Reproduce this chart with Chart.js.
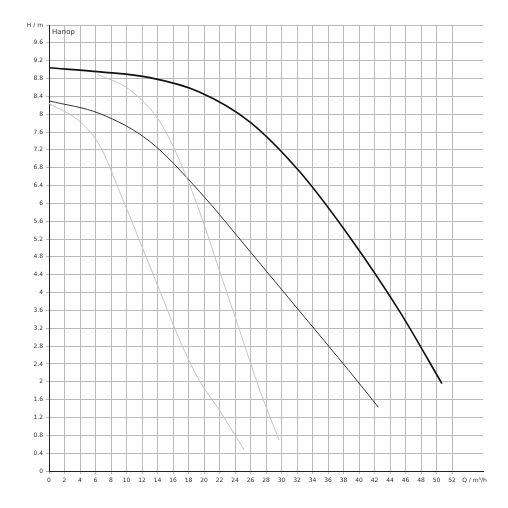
<!DOCTYPE html>
<html>
<head>
<meta charset="utf-8">
<script src="https://cdn.jsdelivr.net/npm/chart.js@4"></script>
<style>
  html, body { margin: 0; padding: 0; background: #fff; }
  #wrap { width: 508px; height: 508px; }
</style>
</head>
<body>
<div id="wrap"><canvas id="c" width="508" height="508"></canvas></div>
<script>
// -- Data --
const mainQ = [0, 6.6, 13, 19.4, 25.9, 32.3, 38.7, 45.2, 50.7];
const mainH = [9.04, 8.95, 8.82, 8.5, 7.83, 6.72, 5.27, 3.59, 1.96];

const midQ = [0, 6.6, 13, 19.4, 25.9, 32.3, 38.7, 42.5];
const midH = [8.3, 8.01, 7.39, 6.27, 4.93, 3.59, 2.25, 1.43];

const grayAQ = [6.2, 10.4, 14.3, 16.9, 19.4, 22, 24.6, 27.2, 29.7];
const grayAH = [8.9, 8.55, 7.83, 6.94, 5.83, 4.49, 3.15, 1.81, 0.69];

const grayBQ = [0, 4, 6.6, 9.1, 11.7, 14.3, 16.9, 19.4, 22, 25.2];
const grayBH = [8.24, 7.83, 7.28, 6.27, 5.16, 4.04, 2.92, 2.03, 1.36, 0.47];

const xLabelTop = 'Q / m³/h';
const yLabelTop = 'H / m';
const titleText = 'Напор';

function toPoints(qs, hs) {
    return qs.map((q, i) => ({ x: q, y: hs[i] }));
}

function makeLine(qs, hs, color, width) {
    return {
        data: toPoints(qs, hs),
        showLine: true,
        borderColor: color,
        borderWidth: width,
        pointRadius: 0,
        cubicInterpolationMode: 'monotone'
    };
}

// Draws the "Напор" caption inside the plot area
const captionPlugin = {
    id: 'caption',
    afterDraw(chart) {
        const ctx = chart.ctx;
        const area = chart.chartArea;
        ctx.save();
        ctx.font = '7px "DejaVu Sans"';
        ctx.fillStyle = '#333';
        ctx.textBaseline = 'top';
        ctx.fillText(titleText, area.left + 3, area.top + 4);
        ctx.restore();
    }
};

const tickFont = { family: 'DejaVu Sans', size: 6 };

new Chart(document.getElementById('c'), {
    type: 'scatter',
    data: {
        datasets: [
            makeLine(grayBQ, grayBH, '#c4c4c4', 1),
            makeLine(grayAQ, grayAH, '#c4c4c4', 1),
            makeLine(midQ, midH, '#333', 1),
            makeLine(mainQ, mainH, '#111', 1.6)
        ]
    },
    options: {
        responsive: false,
        animation: false,
        layout: { padding: { left: 0, top: 25, right: 25, bottom: 17 } },
        plugins: { legend: { display: false }, tooltip: { enabled: false } },
        scales: {
            x: {
                type: 'linear',
                min: 0,
                max: 56,
                afterFit: (s) => { s.height = 20; },
                border: { color: '#222', width: 1 },
                grid: {
                    color: (c) => c.tick && c.tick.value === 54.9 ? 'rgba(0,0,0,0)' : '#bbb',
                    tickLength: 3
                },
                ticks: {
                    autoSkip: false,
                    maxRotation: 0,
                    color: '#333',
                    font: tickFont,
                    callback: (v) => v === 54.9 ? xLabelTop : v
                },
                afterBuildTicks: (s) => {
                    const t = [];
                    for (let v = 0; v <= 52; v += 2) t.push({ value: v });
                    t.push({ value: 54.9 });
                    s.ticks = t;
                }
            },
            y: {
                type: 'linear',
                min: 0,
                max: 10,
                afterFit: (s) => { s.width = 49; },
                border: { color: '#222', width: 1 },
                grid: { color: '#bbb', tickLength: 3 },
                ticks: {
                    autoSkip: false,
                    color: '#333',
                    font: tickFont,
                    callback: (v) => {
                        const r = Math.round(v * 10) / 10;
                        if (Math.abs(r - 10) < 0.01) return yLabelTop;
                        return r;
                    }
                },
                afterBuildTicks: (s) => {
                    const t = [];
                    for (let i = 0; i <= 24; i++) t.push({ value: Math.round(i * 0.4 * 10) / 10 });
                    t.push({ value: 10 });
                    s.ticks = t;
                }
            }
        }
    },
    plugins: [captionPlugin]
});
</script>
</body>
</html>
